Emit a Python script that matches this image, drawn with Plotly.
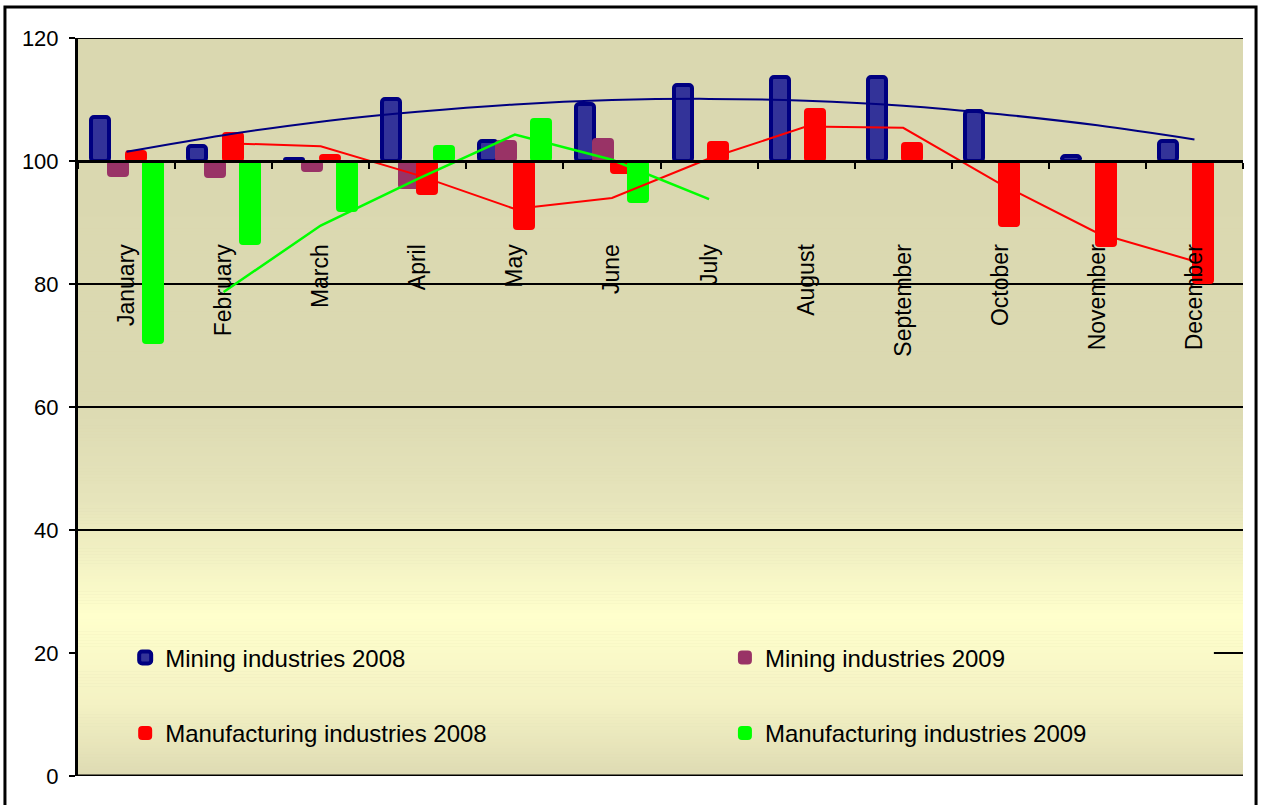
import plotly.graph_objects as go

# ---------------- data ----------------
months = ["January", "February", "March", "April", "May", "June",
          "July", "August", "September", "October", "November", "December"]

mining_2008 = [107.1, 102.5, 100.4, 110.1, 103.2, 109.3, 112.3, 113.7, 113.7, 108.2, 100.8, 103.2]
mining_2009 = [97.6, 97.4, 98.4, 95.6, 103.3, 103.5, None, None, None, None, None, None]
manuf_2008 = [101.6, 104.6, 101.0, 94.6, 89.0, 98.1, 103.1, 108.4, 103.0, 89.4, 86.2, 80.2]
manuf_2009 = [70.4, 86.5, 91.9, 102.4, 106.8, 93.4, None, None, None, None, None, None]

# trend lines
mining_2008_trend = [101.5, 104.2, 106.4, 108.0, 109.2, 109.9, 110.1, 109.8, 109.0, 107.6, 105.8, 103.5]
manuf_2008_avg = [None, 102.9, 102.4, 97.7, 92.2, 94.0, 100.4, 105.6, 105.4, 96.3, 88.3, 83.7]
manuf_2009_avg = [None, 78.7, 89.5, 97.1, 104.3, 100.2, 93.8, None, None, None, None, None]

y_ticks = [0, 20, 40, 60, 80, 100, 120]
BASE = 100

FONT = "Liberation Sans, Arial, sans-serif"

# ---------------- figure ----------------
fig = go.Figure()


def rel(vals):
    return [None if v is None else v - BASE for v in vals]


bar_specs = [
    ("Mining industries 2008", mining_2008, "#333399", "#000080", 4, 0.1854, -0.3657, "legend"),
    ("Mining industries 2009", mining_2009, "#993366", "#993366", 2, 0.2060, -0.1906, "legend2"),
    ("Manufacturing industries 2008", manuf_2008, "#FF0000", "#FF0000", 2, 0.2060, -0.0103, "legend3"),
    ("Manufacturing industries 2009", manuf_2009, "#00FF00", "#00FF00", 2, 0.2060, 0.1700, "legend4"),
]
for name, vals, fill, line, lw, w, off, lg in bar_specs:
    fig.add_trace(go.Bar(
        name=name, x=months, y=rel(vals), base=BASE,
        width=w, offset=off,
        marker=dict(color=fill, line=dict(color=line, width=lw), cornerradius=3),
        legend=lg,
    ))

fig.add_trace(go.Scatter(x=months, y=mining_2008_trend, mode="lines", line=dict(color="#000080", width=2, shape="spline"),
                         showlegend=False, hoverinfo="skip"))
fig.add_trace(go.Scatter(x=months, y=manuf_2008_avg, mode="lines", line=dict(color="#FF0000", width=2),
                         showlegend=False, hoverinfo="skip"))
fig.add_trace(go.Scatter(x=months, y=manuf_2009_avg, mode="lines", line=dict(color="#00FF00", width=2.5),
                         showlegend=False, hoverinfo="skip"))

# ---------------- background gradient (plot area) ----------------
stops = [(0, (0xDE, 0xDB, 0xB3)), (12, (0xF4, 0xF2, 0xC4)), (26, (0xFF, 0xFF, 0xCC)),
         (45, (0xE6, 0xE4, 0xBB)), (62, (0xDB, 0xD9, 0xB1)), (120, (0xDA, 0xD8, 0xB0))]


def col_at(v):
    for (a, ca), (b, cb) in zip(stops[:-1], stops[1:]):
        if a <= v <= b:
            t = (v - a) / (b - a)
            return "rgb(%d,%d,%d)" % tuple(round(ca[i] + (cb[i] - ca[i]) * t) for i in range(3))
    return "rgb(218,216,176)"


shapes = []
step = 0.5
v = 0.0
while v < 120:
    shapes.append(dict(type="rect", xref="paper", yref="y", x0=0, x1=1, y0=v, y1=v + step + 0.05,
                       fillcolor=col_at(v + step / 2), line=dict(width=0), layer="below"))
    v += step

# gridlines
for g in [40, 60, 80, 120]:
    shapes.append(dict(type="line", xref="paper", yref="y", x0=0, x1=1, y0=g, y1=g,
                       line=dict(color="black", width=2), layer="below"))
shapes.append(dict(type="line", xref="paper", yref="y", x0=0.975, x1=1, y0=20, y1=20,
                   line=dict(color="black", width=2), layer="below"))
shapes.append(dict(type="line", xref="paper", yref="y", x0=0, x1=1, y0=0, y1=0,
                   line=dict(color="black", width=3), layer="above"))
# outer chart border
shapes.append(dict(type="rect", xref="paper", yref="paper", x0=-0.0627, x1=1.0112, y0=-0.05, y1=1.042,
                   line=dict(color="black", width=3), fillcolor="rgba(0,0,0,0)", layer="above"))

legend_common = dict(bgcolor="rgba(0,0,0,0)", borderwidth=0, font=dict(family=FONT, size=24, color="black"),
                     xanchor="left", yanchor="middle", orientation="v", itemclick=False, itemdoubleclick=False)

fig.update_layout(
    width=1263, height=805,
    margin=dict(l=78, r=20, t=38, b=29, autoexpand=False),
    paper_bgcolor="white",
    plot_bgcolor="#DAD8B0",
    barmode="overlay",
    bargap=0,
    font=dict(family=FONT, color="black"),
    shapes=shapes,
    legend=dict(x=0.0405, y=0.16, **legend_common),
    legend2=dict(x=0.5553, y=0.16, **legend_common),
    legend3=dict(x=0.0405, y=0.0576, **legend_common),
    legend4=dict(x=0.5553, y=0.0576, **legend_common),
    xaxis=dict(
        type="category", categoryarray=months, range=[-0.5, 11.5],
        anchor="free", position=BASE / 120.0,
        showline=True, linecolor="black", linewidth=3,
        ticks="outside", ticklen=6, tickwidth=2, tickcolor="black", tickson="boundaries",
        showgrid=False, tickangle=-90,
        tickfont=dict(family=FONT, size=23, color="black"),
        ticklabelstandoff=72,
        layer="above traces",
    ),
    yaxis=dict(
        range=[0, 120], tickvals=y_ticks, showgrid=False, zeroline=False,
        showline=True, linecolor="black", linewidth=3,
        ticks="outside", ticklen=6, tickwidth=2, tickcolor="black",
        tickfont=dict(family=FONT, size=22, color="black"),
        ticklabelstandoff=6,
    ),
)

fig.write_html("out.html", config={"displayModeBar": False},
               post_script="document.body.style.margin='0px';")
